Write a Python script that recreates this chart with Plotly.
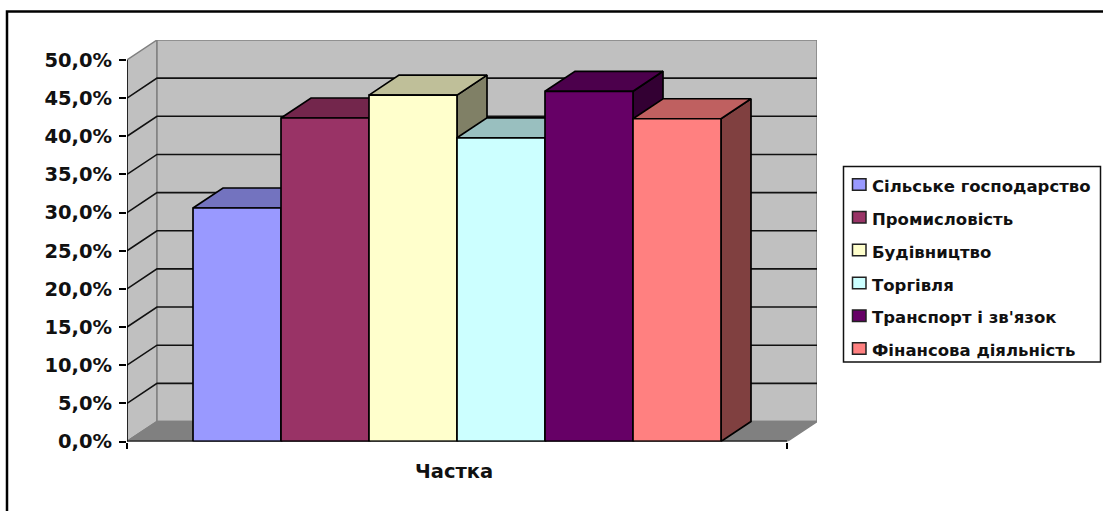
import plotly.graph_objects as go

# ---- data ----
categories = ["Сільське господарство", "Промисловість", "Будівництво",
              "Торгівля", "Транспорт і зв'язок", "Фінансова діяльність"]
values = [30.6, 42.4, 45.4, 39.8, 45.9, 42.3]
colors = ["#9999FF", "#993366", "#FFFFCC", "#CCFFFF", "#660066", "#FF8080"]
y_ticks = [0, 5, 10, 15, 20, 25, 30, 35, 40, 45, 50]
y_tick_labels = ["0,0%", "5,0%", "10,0%", "15,0%", "20,0%", "25,0%",
                 "30,0%", "35,0%", "40,0%", "45,0%", "50,0%"]
x_title = "Частка"

# ---- layout constants (pixels) ----
W, H = 1103, 511
LEFT, RIGHT, TOP, BOTTOM = 127.0, 817.0, 40.0, 441.5
DEPTH_X_PX, DEPTH_Y_PX = 30.0, 20.0
GAP = 0.75
XMIN, XMAX = -GAP, len(values) + GAP
PX_PER_BAR = (RIGHT - DEPTH_X_PX - LEFT) / (XMAX - XMIN)
PX_PER_PCT = (BOTTOM - TOP - DEPTH_Y_PX) / 50.0
DX = DEPTH_X_PX / PX_PER_BAR
DY = DEPTH_Y_PX / PX_PER_PCT
WALL = "#C0C0C0"
FLOOR = "#808080"
EDGE = "#808080"
SWATCH_X = (852.5, 866.0)
SWATCH_FIRST_Y, SWATCH_STEP, SWATCH_H = 184.5, 32.8, 11.5


def shade(hex_color, k):
    r, g, b = (int(hex_color[i:i + 2], 16) for i in (1, 3, 5))
    return f"rgb({round(r * k)},{round(g * k)},{round(b * k)})"


def poly(xs, ys, fill, line_color, width=1.5):
    return go.Scatter(x=xs + xs[:1], y=ys + ys[:1], mode="lines", fill="toself",
                      fillcolor=fill, line=dict(color=line_color, width=width),
                      showlegend=False, hoverinfo="skip", cliponaxis=False)


fig = go.Figure()

# walls and floor
fig.add_trace(poly([XMIN, XMIN + DX, XMIN + DX, XMIN], [0, DY, 50 + DY, 50], WALL, EDGE, 1.5))
fig.add_trace(poly([XMIN + DX, XMAX + DX, XMAX + DX, XMIN + DX], [DY, DY, 50 + DY, 50 + DY], WALL, EDGE, 1.5))
fig.add_trace(poly([XMIN, XMAX, XMAX + DX, XMIN + DX], [0, 0, DY, DY], FLOOR, EDGE, 1.5))

# gridlines
for v in y_ticks[1:-1]:
    fig.add_trace(go.Scatter(x=[XMIN, XMIN + DX, XMAX + DX], y=[v, v + DY, v + DY], mode="lines",
                             line=dict(color="#111111", width=1.6), showlegend=False,
                             hoverinfo="skip", cliponaxis=False))

# bars, painted left to right
for i, (v, c) in enumerate(zip(values, colors)):
    x0, x1 = i, i + 1
    fig.add_trace(poly([x1, x1 + DX, x1 + DX, x1], [0, DY, v + DY, v], shade(c, 0.5), "black", 1.7))
    fig.add_trace(poly([x0, x0 + DX, x1 + DX, x1], [v, v + DY, v + DY, v], shade(c, 0.75), "black", 1.7))
    fig.add_trace(poly([x0, x1, x1, x0], [0, 0, v, v], c, "black", 1.7))

# axis lines
fig.add_trace(go.Scatter(x=[XMIN, XMIN], y=[0, 50], mode="lines", line=dict(color="black", width=1.5),
                         showlegend=False, hoverinfo="skip", cliponaxis=False))
fig.add_trace(go.Scatter(x=[XMIN, XMAX], y=[0, 0], mode="lines", line=dict(color="black", width=2),
                         showlegend=False, hoverinfo="skip", cliponaxis=False))

# legend entries (text from the legend; swatches placed as shapes because the
# legend's fixed marker-to-text gap is wider than in the reference)
for name in categories:
    fig.add_trace(go.Scatter(x=[None], y=[None], mode="markers", name=name, legendgroup=name,
                             marker=dict(symbol="square", size=12, color="rgba(0,0,0,0)",
                                         line=dict(width=0))))

swatches = [
    dict(type="rect", xref="paper", yref="paper", x0=SWATCH_X[0] / W, x1=SWATCH_X[1] / W,
         y0=1 - (SWATCH_FIRST_Y + i * SWATCH_STEP - SWATCH_H / 2) / H,
         y1=1 - (SWATCH_FIRST_Y + i * SWATCH_STEP + SWATCH_H / 2) / H,
         fillcolor=c, line=dict(color="#222222", width=1.5), layer="above")
    for i, c in enumerate(colors)
]

fig.update_layout(
    width=W, height=H, margin=dict(l=0, r=0, t=0, b=0, autoexpand=False),
    paper_bgcolor="white", plot_bgcolor="rgba(0,0,0,0)",
    font=dict(family="DejaVu Sans", color="#111111"),
    xaxis=dict(domain=[LEFT / W, RIGHT / W], range=[XMIN, XMAX + DX], showgrid=False, zeroline=False,
               tickmode="array", tickvals=[XMIN, XMAX], ticktext=["", ""], ticks="outside",
               ticklen=6, tickwidth=1.5, tickcolor="black", fixedrange=True),
    yaxis=dict(domain=[1 - BOTTOM / H, 1 - TOP / H], range=[0, 50 + DY], showgrid=False, zeroline=False,
               tickmode="array", tickvals=y_ticks, ticktext=y_tick_labels, ticks="outside",
               ticklen=7, tickwidth=1.5, tickcolor="black", ticklabelstandoff=3,
               tickfont=dict(family="DejaVu Sans", size=19.5, weight="bold", color="#111111"),
               fixedrange=True),
    legend=dict(x=839 / W, y=1 - 168 / H, xanchor="left", yanchor="top", bgcolor="rgba(0,0,0,0)",
                indentation=-7, tracegroupgap=8.5,
                font=dict(family="DejaVu Sans", size=16.5, weight="bold", color="#111111")),
    showlegend=True,
    shapes=[
        dict(type="rect", xref="paper", yref="paper", x0=7 / W, x1=1.02, y0=1 - 11.5 / H, y1=-0.02,
             line=dict(color="black", width=2.5), layer="below"),
        dict(type="rect", xref="paper", yref="paper", x0=843.5 / W, x1=1100.5 / W, y0=1 - 166.5 / H,
             y1=1 - 362 / H, line=dict(color="#111111", width=1.5), fillcolor="white", layer="below"),
    ] + swatches,
    annotations=[dict(text=x_title, xref="x", yref="paper", x=3, y=1 - 471 / H, xshift=-3.5, yanchor="middle",
                      showarrow=False, font=dict(family="DejaVu Sans", size=19.5, weight="bold", color="#111111"))],
)

fig.write_html("out.html", config={"displayModeBar": False},
               post_script="document.body.style.margin='0';window.dispatchEvent(new Event('resize'));")
